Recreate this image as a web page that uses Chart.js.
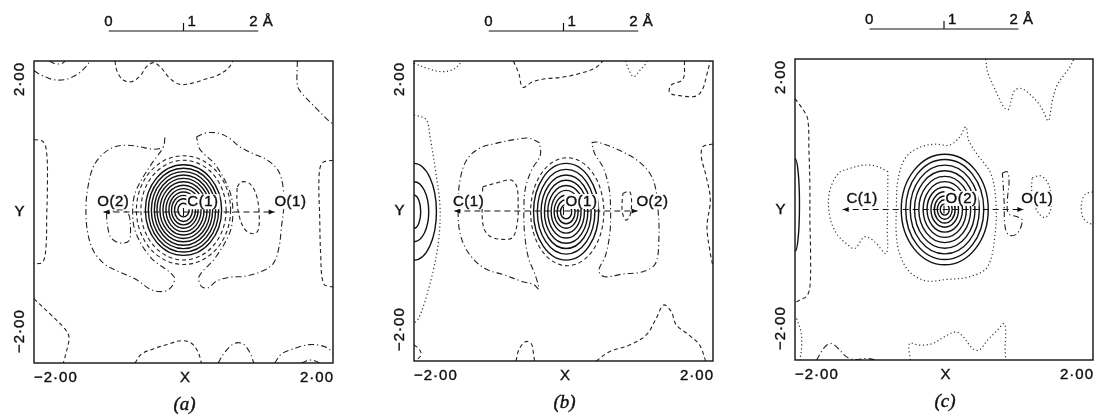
<!DOCTYPE html>
<html>
<head>
<meta charset="utf-8">
<title>Difference density maps (a) (b) (c)</title>
<script src="https://cdn.jsdelivr.net/npm/chart.js@4.4.0/dist/chart.umd.min.js"></script>
<style>
  html, body { margin: 0; padding: 0; background: #fff; }
  #wrap { position: relative; width: 1094px; height: 415px; overflow: hidden; }
  .panel { position: absolute; top: 0; height: 415px; }
  canvas { display: block; }
</style>
</head>
<body>
<div id="wrap">
  <div class="panel" style="left:0;width:365px"><canvas id="ca" width="365" height="415"></canvas></div>
  <div class="panel" style="left:365px;width:365px"><canvas id="cb" width="365" height="415"></canvas></div>
  <div class="panel" style="left:730px;width:364px"><canvas id="cc" width="364" height="415"></canvas></div>
</div>
<script>
// ---- axes / text shared by the three maps (units: Å) ----
const axisMin = -2, axisMax = 2;
const xTickLabels = ['\u22122\u00b700', '2\u00b700'];
const yTickLabels = ['2\u00b700', '\u22122\u00b700'];
const axisNames = ['X', 'Y'];
const panelLetters = ['(a)', '(b)', '(c)'];
const scaleBarEnds = [-1, 1];
const scaleBarLabels = ['0', '1', '2 \u00c5'];

// ---- map (a): C(1) centred ----
const aAtomNames = ['O(2)', 'C(1)', 'O(1)'];
const aAtomLabelX = [-0.94, 0.26, 1.43];
const aBond = [-1.07, 1.22];
const aRingRx = [0.51, 0.47, 0.43, 0.39, 0.355, 0.315, 0.275, 0.235, 0.195, 0.16, 0.12, 0.075];
const aRingRy = [0.60, 0.555, 0.51, 0.465, 0.42, 0.375, 0.33, 0.285, 0.24, 0.195, 0.15, 0.09];
const aDashRingRx = [0.57, 0.63];
const aDashRingRy = [0.66, 0.72];
const aTopLeft = [[-2.0,1.87],[-1.875,1.80],[-1.72,1.75],[-1.56,1.76],[-1.41,1.83],[-1.305,1.925],[-1.25,2.0]];
const aTopNotch = [[-1.795,2.0],[-1.72,1.965],[-1.63,1.965],[-1.585,2.0]];
const aTop = [[-0.918,2.0],[-0.886,1.858],[-0.806,1.748],[-0.695,1.726],[-0.583,1.80],[-0.494,1.925],[-0.396,1.978],[-0.294,1.903],[-0.183,1.77],[-0.049,1.69],[0.107,1.704],[0.285,1.757],[0.463,1.814],[0.597,1.903],[0.664,2.0]];
const aTopRight = [[1.523,2.0],[1.523,1.68],[1.577,1.58],[1.755,1.394],[1.933,1.217],[2.0,1.164]];
const aLeft = [[-2.0,0.96],[-1.875,0.929],[-1.83,0.774],[-1.82,0.376],[-1.83,-0.066],[-1.84,-0.465],[-1.884,-0.664],[-2.0,-0.686]];
const aRight = [[2.0,0.686],[1.857,0.65],[1.813,0.465],[1.822,-0.066],[1.835,-0.553],[1.875,-0.951],[2.0,-0.996]];
const aBottomLeft = [[-2.0,-1.15],[-1.786,-1.35],[-1.586,-1.549],[-1.532,-1.659],[-1.563,-1.836],[-1.608,-2.0]];
const aBottom1 = [[-0.65,-2.0],[-0.561,-1.88],[-0.405,-1.814],[-0.227,-1.757],[-0.027,-1.704],[0.107,-1.739],[0.196,-1.858],[0.24,-2.0]];
const aBottom2 = [[0.463,-2.0],[0.552,-1.858],[0.686,-1.739],[0.797,-1.748],[0.886,-1.858],[0.94,-2.0]];
const aBottom3 = [[1.22,-2.0],[1.31,-1.88],[1.465,-1.814],[1.688,-1.757],[1.889,-1.783],[2.0,-1.858]];
const aBottomArc = [[1.577,-2.0],[1.71,-1.96],[1.826,-2.0]];
const aLobeL = [[-0.249,0.987],[-0.272,0.863],[-0.396,0.832],[-0.583,0.863],[-0.739,0.885],[-0.918,0.863],[-1.082,0.765],[-1.207,0.597],[-1.278,0.332],[-1.305,0.066],[-1.287,-0.243],[-1.207,-0.509],[-1.051,-0.695],[-0.851,-0.796],[-0.628,-0.898],[-0.428,-1.031],[-0.249,-1.049],[-0.147,-0.973],[-0.129,-0.854],[-0.44,-0.60],[-0.64,-0.27],[-0.68,0.0],[-0.64,0.27],[-0.44,0.62],[-0.27,0.86],[-0.249,0.987]];
const aLobeR = [[0.174,0.996],[0.307,1.049],[0.486,1.04],[0.619,0.973],[0.753,0.863],[0.931,0.774],[1.109,0.695],[1.265,0.553],[1.332,0.332],[1.341,0.066],[1.31,-0.199],[1.278,-0.465],[1.198,-0.686],[1.02,-0.796],[0.797,-0.854],[0.619,-0.863],[0.441,-0.916],[0.33,-1.004],[0.241,-0.987],[0.209,-0.854],[0.43,-0.60],[0.62,-0.27],[0.66,0.0],[0.62,0.27],[0.43,0.62],[0.22,0.83],[0.174,0.996]];
const aLoopL = [[-1.03,-0.02],[-1.02,-0.16],[-0.97,-0.34],[-0.85,-0.41],[-0.73,-0.38],[-0.71,-0.2],[-0.74,-0.02],[-0.85,0.03],[-1.03,-0.02]];
const aLoopR = [[0.717,0.332],[0.775,0.398],[0.886,0.376],[0.976,0.221],[1.012,-0.022],[0.998,-0.243],[0.931,-0.288],[0.833,-0.243],[0.762,-0.111],[0.717,0.111],[0.717,0.332]];

// ---- map (b): O(1) centred ----
const bAtomNames = ['C(1)', 'O(1)', 'O(2)'];
const bAtomLabelX = [-1.27, 0.24, 1.19];
const bBond = [-1.46, 0.99];
const bRingRx = [0.436, 0.385, 0.335, 0.29, 0.245, 0.20, 0.16, 0.12, 0.075];
const bRingRy = [0.645, 0.565, 0.49, 0.42, 0.35, 0.285, 0.22, 0.16, 0.095];
const bDashRingRx = [0.49];
const bDashRingRy = [0.72];
const bEdgeRingRx = [0.30, 0.197, 0.09];
const bEdgeRingRy = [0.645, 0.40, 0.22];
const bTopLeft = [[-2.0,1.97],[-1.817,1.90],[-1.638,1.858],[-1.49,1.88],[-1.40,1.947],[-1.37,2.0]];
const bTop = [[-0.67,2.0],[-0.598,1.835],[-0.545,1.649],[-0.41,1.724],[-0.232,1.764],[-0.031,1.782],[0.192,1.827],[0.415,1.902],[0.527,2.0]];
const bTopV = [[0.83,2.0],[0.875,1.88],[0.9375,1.79],[1.018,1.871],[1.098,1.96],[1.116,2.0]];
const bTopRight = [[1.62,2.0],[1.598,1.756],[1.442,1.68],[1.42,1.578],[1.554,1.538],[1.777,1.533],[1.866,1.636],[1.91,1.79],[1.964,2.0]];
const bLeftEdge = [[-2.0,1.28],[-1.84,1.222],[-1.786,0.991],[-1.714,0.547],[-1.652,0.058],[-1.67,-0.387],[-1.741,-0.787],[-1.848,-1.187],[-1.938,-1.431],[-2.0,-1.498]];
const bLobeL = [[-0.32,0.91],[-0.46,0.97],[-0.634,0.956],[-0.902,0.902],[-1.125,0.836],[-1.295,0.68],[-1.384,0.413],[-1.41,0.058],[-1.384,-0.298],[-1.268,-0.564],[-1.058,-0.764],[-0.79,-0.853],[-0.545,-0.942],[-0.40,-0.98],[-0.33,-1.04],[-0.38,-0.85],[-0.47,-0.62],[-0.52,-0.30],[-0.53,0.0],[-0.51,0.30],[-0.42,0.56],[-0.31,0.74],[-0.32,0.91]];
const bInnerL = [[-1.08,0.324],[-0.879,0.378],[-0.701,0.413],[-0.625,0.324],[-0.607,0.102],[-0.616,-0.142],[-0.679,-0.351],[-0.821,-0.378],[-0.991,-0.333],[-1.071,-0.209],[-1.089,0.058],[-1.08,0.324]];
const bLobeR = [[0.375,0.91],[0.44,0.92],[0.576,0.88],[0.75,0.81],[0.98,0.68],[1.15,0.51],[1.232,0.302],[1.268,-0.031],[1.277,-0.342],[1.232,-0.698],[1.063,-0.809],[0.795,-0.84],[0.549,-0.876],[0.473,-0.796],[0.56,-0.60],[0.62,-0.30],[0.63,0.0],[0.61,0.30],[0.53,0.58],[0.42,0.76],[0.375,0.91]];
const bLoopR = [[0.795,0.236],[0.884,0.258],[0.911,0.102],[0.884,-0.076],[0.83,-0.12],[0.786,-0.009],[0.786,0.147],[0.795,0.236]];
const bRightEdge = [[2.0,0.893],[1.866,0.858],[1.844,0.724],[1.91,0.458],[1.964,0.147],[1.92,-0.209],[1.964,-0.564],[2.0,-0.742]];
const bBottomRight = [[0.4375,-2.0],[0.616,-1.876],[0.884,-1.787],[1.107,-1.653],[1.241,-1.431],[1.339,-1.253],[1.442,-1.342],[1.509,-1.52],[1.665,-1.644],[1.821,-1.787],[1.902,-2.0]];
const bBottomLeft = [[-2.0,-1.787],[-1.929,-1.844],[-1.906,-1.92],[-1.978,-2.0]];
const bBottomHump = [[-0.634,-2.0],[-0.598,-1.853],[-0.509,-1.742],[-0.429,-1.773],[-0.402,-1.898],[-0.388,-2.0]];

// ---- map (c): O(2) centred ----
const cAtomNames = ['C(1)', 'O(2)', 'O(1)'];
const cAtomLabelX = [-1.10, 0.235, 1.25];
const cBond = [-1.36, 1.065];
const cRingRx = [0.584, 0.524, 0.464, 0.406, 0.348, 0.29, 0.238, 0.185, 0.14, 0.10, 0.06];
const cRingRy = [0.735, 0.665, 0.59, 0.515, 0.44, 0.37, 0.30, 0.235, 0.18, 0.13, 0.075];
const cEdgeRingRx = [0.06];
const cEdgeRingRy = [0.62];
const cLeftEdge = [[-2.0,1.475],[-1.911,1.355],[-1.831,1.209],[-1.813,0.789],[-1.8,0.301],[-1.8,-0.142],[-1.791,-0.585],[-1.8,-1.028],[-1.844,-1.152],[-1.942,-1.205],[-2.0,-1.24]];
const cTop = [[0.561,2.0],[0.584,1.829],[0.659,1.652],[0.731,1.497],[0.806,1.356],[0.864,1.329],[0.909,1.475],[0.953,1.586],[1.042,1.608],[1.14,1.542],[1.252,1.431],[1.327,1.32],[1.399,1.178],[1.434,1.32],[1.461,1.475],[1.519,1.652],[1.608,1.785],[1.697,1.905],[1.742,2.0]];
const cLobeL = [[-0.753,0.502],[-0.909,0.576],[-1.087,0.589],[-1.265,0.545],[-1.421,0.478],[-1.541,0.213],[-1.532,-0.097],[-1.443,-0.319],[-1.31,-0.452],[-1.198,-0.518],[-1.065,-0.363],[-0.931,-0.43],[-0.775,-0.585],[-0.762,-0.23],[-0.757,0.124],[-0.753,0.502]];
const cHalo = [[-0.641,-0.009],[-0.619,0.39],[-0.508,0.7],[-0.307,0.833],[-0.107,0.868],[0.071,0.855],[0.205,0.957],[0.294,1.099],[0.33,0.921],[0.437,0.744],[0.628,0.478],[0.695,0.124],[0.686,-0.319],[0.584,-0.762],[0.339,-0.895],[0.027,-0.93],[-0.241,-0.948],[-0.463,-0.828],[-0.597,-0.585],[-0.641,-0.319],[-0.641,-0.009]];
const cBracket = [[0.784,0.487],[0.851,0.5],[0.873,0.368],[0.851,0.124],[0.864,-0.053],[0.984,-0.097],[1.051,-0.142],[0.984,-0.319],[0.873,-0.341],[0.82,-0.23],[0.806,0.124],[0.784,0.487]];
const cLoopO1 = [[1.185,0.425],[1.296,0.447],[1.385,0.368],[1.439,0.19],[1.43,-0.009],[1.354,-0.106],[1.274,-0.053],[1.207,0.08],[1.176,0.257],[1.185,0.425]];
const cFarRight = [[1.996,0.235],[1.898,0.204],[1.844,0.071],[1.862,-0.097],[1.933,-0.177],[1.996,-0.195]];
const cBottomLeft = [[-1.978,-1.449],[-1.92,-1.626],[-1.911,-1.825],[-1.933,-2.0]];
const cBottom1 = [[-1.71,-2.0],[-1.599,-1.825],[-1.51,-1.781],[-1.421,-1.847],[-1.31,-1.958],[-1.198,-1.993],[-1.042,-1.98],[-0.909,-2.0]];
const cBottom2 = [[-0.454,-2.0],[-0.463,-1.781],[-0.33,-1.803],[-0.151,-1.781],[0.004,-1.692],[0.16,-1.626],[0.258,-1.692],[0.383,-1.847],[0.472,-1.869],[0.584,-1.736],[0.717,-1.604],[0.806,-1.515],[0.829,-1.648],[0.82,-1.825],[0.829,-2.0]];

// ---- line styles ----
const STYLES = {
  solid:   { color: '#111', width: 1.4, dash: [] },
  dash:    { color: '#222', width: 1.1, dash: [4, 3] },
  dot:     { color: '#333', width: 1.2, dash: [1.2, 2.6] },
  dashdot: { color: '#222', width: 1.1, dash: [6, 3, 1.2, 3] },
  bond:    { color: '#111', width: 1.2, dash: [6, 4] }
};
const FONT = "'Liberation Sans', Arial, sans-serif";

const panels = [
  {
    canvas: 'ca', pad: { left: 34, top: 61, right: 32, bottom: 52 },
    names: aAtomNames, nameX: aAtomLabelX, nameY: 0.13, bond: aBond,
    rings: [
      { cx: 0, cy: 0.025, rx: aRingRx, ry: aRingRy, style: 'solid' },
      { cx: 0, cy: 0.025, rx: aDashRingRx, ry: aDashRingRy, style: 'dash' }
    ],
    lines: [
      [aTopLeft, 'dashdot'], [aTopNotch, 'dashdot'], [aTop, 'dash'], [aTopRight, 'dashdot'],
      [aLeft, 'dash'], [aRight, 'dash'], [aBottomLeft, 'dash'], [aBottom1, 'dash'],
      [aBottom2, 'dashdot'], [aBottom3, 'dashdot'], [aBottomArc, 'dashdot'],
      [aLobeL, 'dashdot'], [aLobeR, 'dashdot'], [aLoopL, 'dashdot'], [aLoopR, 'dash']
    ],
    letter: panelLetters[0]
  },
  {
    canvas: 'cb', pad: { left: 49, top: 61, right: 17, bottom: 54 },
    names: bAtomNames, nameX: bAtomLabelX, nameY: 0.12, bond: bBond,
    rings: [
      { cx: 0.035, cy: -0.01, rx: bRingRx, ry: bRingRy, style: 'solid' },
      { cx: 0.05, cy: -0.01, rx: bDashRingRx, ry: bDashRingRy, style: 'dash' },
      { cx: -2.0, cy: -0.01, rx: bEdgeRingRx, ry: bEdgeRingRy, style: 'solid' }
    ],
    lines: [
      [bTopLeft, 'dot'], [bTop, 'dash'], [bTopV, 'dot'], [bTopRight, 'dash'],
      [bLeftEdge, 'dot'], [bLobeL, 'dashdot'], [bInnerL, 'dash'], [bLobeR, 'dashdot'],
      [bLoopR, 'dash'], [bRightEdge, 'dash'], [bBottomRight, 'dash'],
      [bBottomLeft, 'dash'], [bBottomHump, 'dash']
    ],
    letter: panelLetters[1]
  },
  {
    canvas: 'cc', pad: { left: 65, top: 59, right: 1, bottom: 55 },
    names: cAtomNames, nameX: cAtomLabelX, nameY: 0.14, bond: cBond,
    rings: [
      { cx: 0.01, cy: 0, rx: cRingRx, ry: cRingRy, style: 'solid' },
      { cx: -2.0, cy: 0.06, rx: cEdgeRingRx, ry: cEdgeRingRy, style: 'solid' }
    ],
    lines: [
      [cLeftEdge, 'dash'], [cTop, 'dot'], [cLobeL, 'dot'], [cHalo, 'dot'],
      [cBracket, 'dashdot'], [cLoopO1, 'dot'], [cFarRight, 'dot'],
      [cBottomLeft, 'dot'], [cBottom1, 'dashdot'], [cBottom2, 'dot']
    ],
    letter: panelLetters[2]
  }
];

// concentric contour rings (ellipses), placed through the chart scales
const ringPlugin = {
  id: 'rings',
  beforeDatasetsDraw(chart, args, opts) {
    const { ctx, chartArea: a, scales: { x, y } } = chart;
    ctx.save();
    ctx.beginPath();
    ctx.rect(a.left, a.top, a.right - a.left, a.bottom - a.top);
    ctx.clip();
    opts.rings.forEach(g => {
      const st = STYLES[g.style];
      ctx.strokeStyle = st.color;
      ctx.lineWidth = st.width;
      ctx.setLineDash(st.dash);
      const cxp = x.getPixelForValue(g.cx), cyp = y.getPixelForValue(g.cy);
      g.rx.forEach((rx, i) => {
        const rxp = x.getPixelForValue(g.cx + rx) - cxp;
        const ryp = cyp - y.getPixelForValue(g.cy + g.ry[i]);
        ctx.beginPath();
        ctx.ellipse(cxp, cyp, rxp, ryp, 0, 0, Math.PI * 2);
        ctx.stroke();
      });
    });
    ctx.restore();
  }
};

// text a touch heavier, like the printed figure
function inkText(ctx, s, px, py) {
  ctx.fillText(s, px, py);
  ctx.strokeText(s, px, py);
}

// frame, tick text, atom names, arrowheads, scale bar, panel letter
const textPlugin = {
  id: 'texts',
  afterDraw(chart, args, p) {
    const { ctx, chartArea: a, scales: { x, y } } = chart;
    ctx.save();
    ctx.setLineDash([]);
    ctx.strokeStyle = '#111';
    ctx.fillStyle = '#111';
    ctx.lineWidth = 1.4;
    ctx.strokeRect(a.left, a.top, a.right - a.left, a.bottom - a.top);

    ctx.font = '15px ' + FONT;
    ctx.letterSpacing = '1px';
    ctx.textBaseline = 'middle';
    ctx.lineWidth = 0.4;
    const xRow = a.bottom + 15;
    ctx.textAlign = 'left';
    inkText(ctx, xTickLabels[0], x.getPixelForValue(axisMin), xRow);
    ctx.textAlign = 'right';
    inkText(ctx, xTickLabels[1], x.getPixelForValue(axisMax) + 1, xRow);
    ctx.textAlign = 'center';
    inkText(ctx, axisNames[0], x.getPixelForValue(0) + 2, xRow);

    const yCol = a.left - 14;
    inkText(ctx, axisNames[1], yCol, y.getPixelForValue(0));
    ctx.save();
    ctx.translate(yCol, 0);
    ctx.rotate(-Math.PI / 2);
    ctx.textAlign = 'right';
    inkText(ctx, yTickLabels[0], -y.getPixelForValue(axisMax) - 1, 0);
    ctx.textAlign = 'left';
    inkText(ctx, yTickLabels[1], -y.getPixelForValue(axisMin) + 10, 0);
    ctx.restore();

    // arrowheads at the bond ends and a tick at the central atom
    const y0 = y.getPixelForValue(0);
    const xl = x.getPixelForValue(p.bond[0]), xr = x.getPixelForValue(p.bond[1]);
    ctx.beginPath();
    ctx.moveTo(xl, y0); ctx.lineTo(xl + 6, y0 - 2.5); ctx.lineTo(xl + 6, y0 + 2.5); ctx.closePath();
    ctx.moveTo(xr, y0); ctx.lineTo(xr - 6, y0 - 2.5); ctx.lineTo(xr - 6, y0 + 2.5); ctx.closePath();
    ctx.fill();
    ctx.lineWidth = 1.1;
    ctx.beginPath();
    ctx.moveTo(x.getPixelForValue(0), y0 - 4);
    ctx.lineTo(x.getPixelForValue(0), y0 + 4);
    ctx.stroke();

    // atom names above the bond line, on a white patch that breaks the contours
    ctx.font = '15px ' + FONT;
    ctx.letterSpacing = '0.5px';
    ctx.textAlign = 'center';
    p.names.forEach((n, i) => {
      const tx = x.getPixelForValue(p.nameX[i]), ty = y.getPixelForValue(p.nameY);
      const w = ctx.measureText(n).width;
      ctx.fillStyle = '#fff';
      ctx.fillRect(tx - w / 2 - 1, ty - 8, w + 2, 15);
      ctx.fillStyle = '#111';
      ctx.lineWidth = 0.4;
      inkText(ctx, n, tx, ty);
    });

    // 2 Å scale bar above the map
    const barY = a.top - 30;
    const b0 = x.getPixelForValue(scaleBarEnds[0]), b1 = x.getPixelForValue(scaleBarEnds[1]);
    const bm = x.getPixelForValue((scaleBarEnds[0] + scaleBarEnds[1]) / 2);
    ctx.lineWidth = 1.2;
    ctx.beginPath();
    ctx.moveTo(b0, barY); ctx.lineTo(b1, barY);
    ctx.moveTo(bm, barY); ctx.lineTo(bm, barY - 8);
    ctx.stroke();
    ctx.font = '15px ' + FONT;
    ctx.letterSpacing = '0.5px';
    ctx.lineWidth = 0.4;
    ctx.textAlign = 'center';
    inkText(ctx, scaleBarLabels[0], b0, barY - 9);
    ctx.textAlign = 'left';
    inkText(ctx, scaleBarLabels[1], bm + 4, barY - 9);
    ctx.textAlign = 'center';
    inkText(ctx, scaleBarLabels[2], b1 + 3, barY - 9);

    // panel letter
    ctx.font = "italic 19px 'Liberation Serif', 'Times New Roman', serif";
    ctx.letterSpacing = '0px';
    inkText(ctx, p.letter, x.getPixelForValue(0) + 1, a.bottom + 42);
    ctx.restore();
  }
};

function buildPanel(p) {
  const datasets = p.lines.map(([pts, style]) => ({
    data: pts.map(([px, py]) => ({ x: px, y: py })),
    showLine: true,
    borderColor: STYLES[style].color,
    borderWidth: STYLES[style].width,
    borderDash: STYLES[style].dash,
    tension: 0.35,
    pointRadius: 0,
    pointHoverRadius: 0,
    clip: 0
  }));
  datasets.push({
    data: p.bond.map(bx => ({ x: bx, y: 0 })),
    showLine: true,
    borderColor: STYLES.bond.color,
    borderWidth: STYLES.bond.width,
    borderDash: STYLES.bond.dash,
    pointRadius: 0,
    tension: 0
  });

  new Chart(document.getElementById(p.canvas), {
    type: 'scatter',
    data: { datasets },
    options: {
      responsive: false,
      animation: false,
      devicePixelRatio: 1,
      events: [],
      layout: { padding: p.pad },
      scales: {
        x: { type: 'linear', min: axisMin, max: axisMax, display: false },
        y: { type: 'linear', min: axisMin, max: axisMax, display: false }
      },
      plugins: {
        legend: { display: false },
        tooltip: { enabled: false },
        rings: { rings: p.rings },
        texts: p
      }
    },
    plugins: [ringPlugin, textPlugin]
  });
}

panels.forEach(buildPanel);
</script>
</body>
</html>
